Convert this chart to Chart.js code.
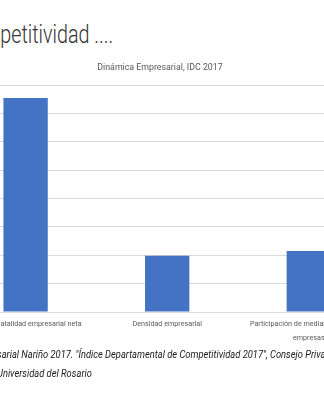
<!DOCTYPE html>
<html>
<head>
<meta charset="utf-8">
<script src="https://cdn.jsdelivr.net/npm/chart.js@4"></script>
<style>
  html, body { margin: 0; padding: 0; background: #fff; }
  body { width: 324px; height: 400px; position: relative; overflow: hidden; }
  #heading {
    position: absolute; right: 211px; top: 19px; white-space: nowrap;
    font-family: Roboto, sans-serif; font-weight: 300; font-size: 26px; color: #333;
    transform: scaleX(0.76); transform-origin: right center;
  }
  #chartWrap { position: absolute; left: -65px; top: 57px; }
  #source {
    position: absolute; left: -3px; top: 345px; white-space: nowrap;
    font-family: Roboto, sans-serif; font-style: italic;
    font-size: 10.5px; line-height: 19px; color: #1a1a1a;
    transform: scaleX(0.89); transform-origin: left center;
  }
</style>
</head>
<body>
<div id="heading">Competitividad ....</div>
<div id="chartWrap"><canvas id="chart" width="450" height="296"></canvas></div>
<div id="source">sarial Nariño 2017. "Índice Departamental de Competitividad 2017", Consejo Privado de Competitividad y<br>Universidad del Rosario</div>
<script>
// Dinámica Empresarial, IDC 2017
const chartTitle = 'Dinámica Empresarial, IDC 2017';
const categories = [
  'Tasa de natalidad empresarial neta',
  'Densidad empresarial',
  ['Participación de medianas y grandes', 'empresas']
];
const values = [7.55, 1.98, 2.15];
const yMax = 8;

const labelFont = 'Roboto, sans-serif';

new Chart(document.getElementById('chart').getContext('2d'), {
  type: 'bar',
  data: {
    labels: categories,
    datasets: [{
      data: values,
      backgroundColor: '#4472C4',
      categoryPercentage: 1,
      barPercentage: 0.313,
    }]
  },
  options: {
    responsive: false,
    animation: false,
    devicePixelRatio: 1,
    layout: { padding: { left: 5.4, right: 5.4, top: 6, bottom: 3 } },
    plugins: {
      legend: { display: false },
      tooltip: { enabled: false },
      title: {
        display: true,
        text: chartTitle,
        color: '#595959',
        font: { family: labelFont, size: 8.8, weight: 'normal', lineHeight: 1.2 },
        padding: { top: 0, bottom: 11.6 },
      }
    },
    scales: {
      x: {
        grid: { display: false, drawTicks: false },
        border: { display: true, color: '#d9d9d9' },
        ticks: {
          color: '#595959', padding: 5, autoSkip: false, maxRotation: 0,
          font: { family: labelFont, size: 7.2, lineHeight: '14px' }
        }
      },
      y: {
        min: 0, max: yMax,
        ticks: { display: false, stepSize: 1 },
        grid: { color: '#d9d9d9', drawTicks: false },
        border: { display: false },
        // off-screen axis labels take this room in the original
        afterFit: s => { s.width = 14.4; }
      }
    }
  }
});
</script>
</body>
</html>
